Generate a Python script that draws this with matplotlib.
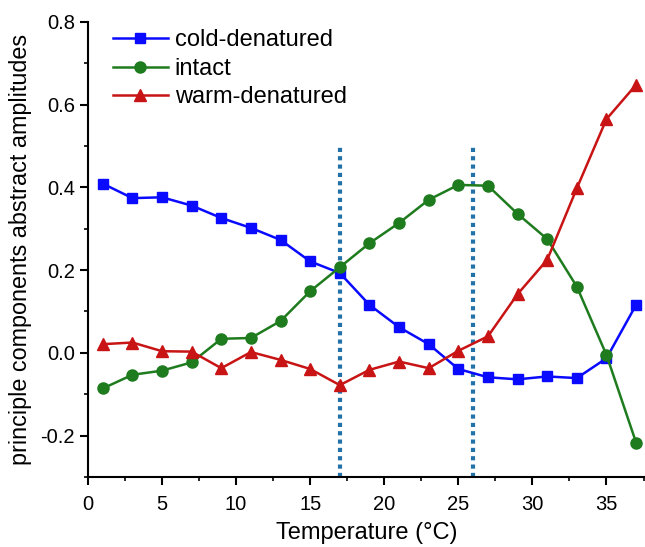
import matplotlib.pyplot as plt
from matplotlib.ticker import MultipleLocator

plt.rcParams['font.family'] = ['Liberation Sans', 'DejaVu Sans']

temp = [1, 3, 5, 7, 9, 11, 13, 15, 17, 19, 21, 23, 25, 27, 29, 31, 33, 35, 37]
cold = [0.409, 0.374, 0.376, 0.356, 0.326, 0.302, 0.273, 0.221, 0.193, 0.116,
        0.062, 0.021, -0.039, -0.059, -0.064, -0.057, -0.061, -0.013, 0.116]
intact = [-0.086, -0.053, -0.043, -0.023, 0.034, 0.036, 0.077, 0.149, 0.207, 0.265,
          0.314, 0.370, 0.406, 0.404, 0.336, 0.275, 0.160, -0.005, -0.217]
warm = [0.021, 0.025, 0.004, 0.003, -0.037, 0.002, -0.017, -0.039, -0.078, -0.041,
        -0.021, -0.037, 0.005, 0.040, 0.142, 0.225, 0.398, 0.565, 0.648]
vlines = [17, 26]

fig = plt.figure(figsize=(6.45, 5.47), dpi=100)
ax = fig.add_axes([0.1364, 0.128, 0.8636, 0.832])

ax.plot(temp, cold, '-s', color='#0a0aff', lw=1.8, ms=7, label='cold-denatured')
ax.plot(temp, intact, '-o', color='#1e7b1e', lw=1.8, ms=8, label='intact')
ax.plot(temp, warm, '-^', color='#c81414', lw=1.8, ms=8, label='warm-denatured')

for v in vlines:
    ax.plot([v, v], [-0.3, 0.5], color='#2271a8', lw=3, ls=(0, (1, 1)), zorder=1)

ax.set_xlim(0, 37.6)
ax.set_ylim(-0.3, 0.8)
ax.xaxis.set_major_locator(MultipleLocator(5))
ax.xaxis.set_minor_locator(MultipleLocator(2.5))
ax.yaxis.set_major_locator(MultipleLocator(0.2))
ax.yaxis.set_minor_locator(MultipleLocator(0.1))
ax.yaxis.set_major_formatter(plt.FuncFormatter(lambda v, p: f'{v:.1f}'))
ax.spines['top'].set_visible(False)
ax.spines['right'].set_visible(False)
ax.spines['left'].set_linewidth(1.5)
ax.spines['bottom'].set_linewidth(1.5)
ax.tick_params(which='major', direction='out', length=6, width=1.5, labelsize=14.5)
ax.tick_params(axis='x', which='major', pad=7)
ax.tick_params(which='minor', direction='out', length=3, width=1.2)

ax.set_xlabel('Temperature (°C)', fontsize=17, labelpad=6)
ax.set_ylabel('principle components abstract amplitudes', fontsize=16.8, labelpad=6)

ax.legend(loc='upper left', frameon=False, fontsize=17, handlelength=2.3,
          handletextpad=0.3, labelspacing=0.28, borderaxespad=0.2,
          bbox_to_anchor=(0.02, 1.015))

fig.savefig('out.png', dpi=100)
